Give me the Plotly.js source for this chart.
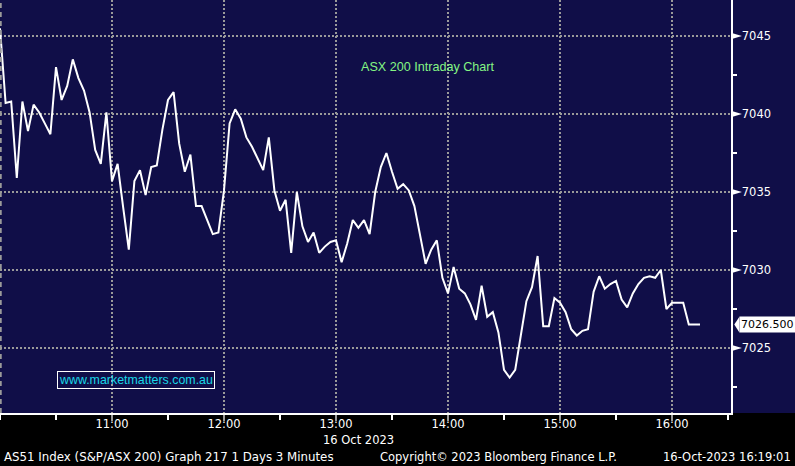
<!DOCTYPE html>
<html>
<head>
<meta charset="utf-8">
<script src="https://cdn.plot.ly/plotly-3.0.1.min.js"></script>
<style>
  html, body { margin: 0; padding: 0; background: #000; }
  #chart { width: 795px; height: 466px; }
</style>
</head>
<body>
<div id="chart"></div>
<script>
// ---- data ----
const tradeDate = '2023-10-16';
const times = [
  '10:00','10:03','10:06','10:09','10:12','10:15','10:18','10:21','10:24','10:27',
  '10:30','10:33','10:36','10:39','10:42','10:45','10:48','10:51','10:54','10:57',
  '11:00','11:03','11:06','11:09','11:12','11:15','11:18','11:21','11:24','11:27',
  '11:30','11:33','11:36','11:39','11:42','11:45','11:48','11:51','11:54','11:57',
  '12:00','12:03','12:06','12:09','12:12','12:15','12:18','12:21','12:24','12:27',
  '12:30','12:33','12:36','12:39','12:42','12:45','12:48','12:51','12:54','12:57',
  '13:00','13:03','13:06','13:09','13:12','13:15','13:18','13:21','13:24','13:27',
  '13:30','13:33','13:36','13:39','13:42','13:45','13:48','13:51','13:54','13:57',
  '14:00','14:03','14:06','14:09','14:12','14:15','14:18','14:21','14:24','14:27',
  '14:30','14:33','14:36','14:39','14:42','14:45','14:48','14:51','14:54','14:57',
  '15:00','15:03','15:06','15:09','15:12','15:15','15:18','15:21','15:24','15:27',
  '15:30','15:33','15:36','15:39','15:42','15:45','15:48','15:51','15:54','15:57',
  '16:00','16:03','16:06','16:09','16:12','16:15'
];
const prices = [
  7045.5, 7040.7, 7040.8, 7035.9, 7040.8, 7038.9, 7040.6, 7040.1, 7039.4, 7038.7,
  7043.0, 7040.9, 7041.8, 7043.5, 7042.3, 7041.5, 7040.1, 7037.7, 7036.8, 7040.1,
  7035.7, 7036.8, 7034.0, 7031.3, 7035.7, 7036.4, 7034.8, 7036.6, 7036.7, 7039.0,
  7040.9, 7041.4, 7038.1, 7036.3, 7037.4, 7034.1, 7034.1, 7033.2, 7032.3, 7032.4,
  7035.1, 7039.4, 7040.3, 7039.7, 7038.5, 7037.9, 7037.2, 7036.4, 7038.5, 7035.1,
  7033.8, 7034.5, 7031.1, 7035.0, 7032.8, 7031.8, 7032.4, 7031.1, 7031.5, 7031.8,
  7031.9, 7030.5, 7031.7, 7033.2, 7032.7, 7033.2, 7032.3, 7035.0, 7036.6, 7037.5,
  7036.3, 7035.2, 7035.5, 7035.1, 7034.1, 7032.2, 7030.4, 7031.3, 7031.9, 7029.5,
  7028.5, 7030.2, 7028.8, 7028.5, 7027.8, 7026.8, 7029.0, 7027.0, 7027.3, 7026.0,
  7023.6, 7023.1, 7023.6, 7025.8, 7028.0, 7028.9, 7030.9, 7026.4, 7026.4, 7028.2,
  7027.9, 7027.3, 7026.2, 7025.8, 7026.1, 7026.2, 7028.6, 7029.6, 7028.8, 7029.1,
  7029.3, 7028.1, 7027.6, 7028.5, 7029.1, 7029.5, 7029.6, 7029.5, 7030.0, 7027.5,
  7027.9, 7027.9, 7027.9, 7026.5, 7026.5, 7026.5
];
const lastPrice = 7026.5;
const lastPriceLabel = '7026.500';
const hourTicks = ['11:00','12:00','13:00','14:00','15:00','16:00'];
const yTicks = [7025, 7030, 7035, 7040, 7045];
const yTickLabels = ['7025','7030','7035','7040','7045'];
const chartTitle = 'ASX 200 Intraday Chart';
const dateLabel = '16 Oct 2023';
const watermark = 'www.marketmatters.com.au';
const footerLeft = 'AS51 Index (S&P/ASX 200) Graph 217 1 Days 3 Minutes';
const footerMid = 'Copyright\u00a9 2023 Bloomberg Finance L.P.';
const footerRight = '16-Oct-2023 16:19:01';

// ---- build ----
const navy = '#100e48';
const gridColor = '#9a9a9a';
const tickFont = { family: 'DejaVu Sans', size: 11.5, color: '#ffffff' };
const xs = times.map(t => tradeDate + ' ' + t);

const trace = {
  x: xs, y: prices, type: 'scatter', mode: 'lines',
  line: { color: '#ffffff', width: 2 },
  hoverinfo: 'skip'
};

const shapes = [
  { type: 'rect', xref: 'paper', yref: 'paper', x0: 1, x1: 1.2, y0: 0, y1: 1,
    fillcolor: navy, line: { width: 0 }, layer: 'below' },
  { type: 'line', xref: 'paper', yref: 'paper', x0: 0.001, x1: 0.001, y0: 0, y1: 1,
    line: { color: gridColor, width: 2, dash: '5px,4px' } },
  { type: 'path', xref: 'paper', yref: 'y',
    path: `M1.0045,${lastPrice} L1.0115,${lastPrice + 0.5} L1.0115,${lastPrice - 0.5} Z`,
    fillcolor: '#ffffff', line: { width: 0 } }
];
yTicks.forEach(v => {
  shapes.push({ type: 'path', xref: 'paper', yref: 'y',
    path: `M1.001,${v - 0.2} L1.015,${v} L1.001,${v + 0.2} Z`,
    fillcolor: '#ffffff', line: { width: 0 } });
});

const layout = {
  width: 795, height: 466,
  margin: { l: 0, r: 64, t: 0, b: 53, pad: 0 },
  paper_bgcolor: '#000000',
  plot_bgcolor: navy,
  showlegend: false,
  font: { family: 'DejaVu Sans', color: '#ffffff' },
  xaxis: {
    type: 'date',
    range: [tradeDate + ' 10:00', tradeDate + ' 16:31:36'],
    tickmode: 'array',
    tickvals: hourTicks.map(t => tradeDate + ' ' + t),
    ticktext: hourTicks,
    ticks: 'outside', ticklen: 6, tickwidth: 2, tickcolor: gridColor,
    ticklabelstandoff: -6,
    tickfont: tickFont,
    showgrid: true, gridcolor: gridColor, gridwidth: 2, griddash: '2px,2px',
    showline: true, linecolor: '#ffffff', linewidth: 1.5,
    zeroline: false, fixedrange: true,
    minor: { ticks: 'outside', ticklen: 5, tickwidth: 1.5, tickcolor: '#ffffff',
             dtick: 1800000, tick0: tradeDate + ' 10:30', showgrid: false }
  },
  yaxis: {
    side: 'right',
    range: [7020.833, 7047.308],
    tickmode: 'array', tickvals: yTicks, ticktext: yTickLabels,
    ticks: 'outside', ticklen: 7, tickcolor: 'rgba(0,0,0,0)',
    tickfont: tickFont,
    showgrid: true, gridcolor: gridColor, gridwidth: 2, griddash: '2px,2px',
    showline: true, linecolor: '#ffffff', linewidth: 1.5,
    zeroline: false, fixedrange: true,
    minor: { tickmode: 'array', tickvals: [7022.5, 7027.5, 7032.5, 7037.5, 7042.5],
             ticks: 'outside', ticklen: 4, tickwidth: 1.5, tickcolor: '#ffffff', showgrid: false }
  },
  shapes: shapes,
  annotations: [
    { text: chartTitle, xref: 'paper', yref: 'paper', x: 428 / 731, y: 1 - 67 / 413,
      xanchor: 'center', yanchor: 'middle', showarrow: false,
      font: { family: 'Liberation Sans', size: 12.6, color: '#84f584' } },
    { text: watermark, xref: 'paper', yref: 'paper', x: 57 / 731, y: 1 - 379.5 / 413,
      xanchor: 'left', yanchor: 'middle', showarrow: false,
      bordercolor: '#ffffff', borderwidth: 1, borderpad: 1,
      font: { family: 'Liberation Sans', size: 12.4, color: '#1ad6e6' } },
    { text: lastPriceLabel, xref: 'paper', yref: 'y', x: 1.0115, y: lastPrice,
      xanchor: 'left', yanchor: 'middle', showarrow: false,
      bgcolor: '#ffffff', borderpad: 1,
      font: { family: 'DejaVu Sans', size: 11, color: '#000000' } },
    { text: dateLabel, xref: 'paper', yref: 'paper', x: 321 / 731, y: -(440 - 413) / 413,
      xanchor: 'left', yanchor: 'middle', showarrow: false, font: tickFont },
    { text: footerLeft, xref: 'paper', yref: 'paper', x: 2 / 731, y: -(457.5 - 413) / 413,
      xanchor: 'left', yanchor: 'middle', showarrow: false,
      font: { family: 'DejaVu Sans', size: 11.8, color: '#ffffff' } },
    { text: footerMid, xref: 'paper', yref: 'paper', x: 378 / 731, y: -(457.5 - 413) / 413,
      xanchor: 'left', yanchor: 'middle', showarrow: false, font: tickFont },
    { text: footerRight, xref: 'paper', yref: 'paper', x: 793 / 731, y: -(457.5 - 413) / 413,
      xanchor: 'right', yanchor: 'middle', showarrow: false, font: tickFont }
  ]
};

Plotly.newPlot('chart', [trace], layout, { displayModeBar: false, staticPlot: true });
</script>
</body>
</html>
